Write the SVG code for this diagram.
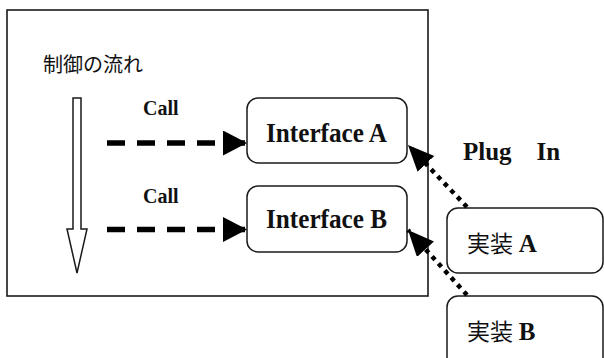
<svg xmlns="http://www.w3.org/2000/svg" width="604" height="358" viewBox="0 0 604 358">
<defs>
<style>
.frame{fill:#fff;stroke:#1a1a1a;stroke-width:1.6}
.box{fill:#fff;stroke:#1a1a1a;stroke-width:1.5}
.lbl{font-family:"Liberation Serif","Noto Sans CJK JP",serif;font-weight:bold;fill:#111}
.jp{font-family:"Noto Sans CJK JP",sans-serif;fill:#111}
.impl{font-family:"Liberation Serif","Noto Sans CJK JP",serif;fill:#111;font-size:23px}
.lat{font-weight:bold;font-size:25px}
.dash{stroke:#000;stroke-width:5.5;stroke-dasharray:18 12;fill:none}
.dot{stroke:#000;stroke-width:4.5;stroke-dasharray:4.5 5;fill:none}
</style>
<marker id="tri" markerUnits="userSpaceOnUse" markerWidth="26" markerHeight="26" refX="24" refY="12.5" orient="auto" viewBox="0 0 26 26">
<path d="M0,0 L24,12.5 L0,25 Z" fill="#000"/>
</marker>
<marker id="tri2" markerUnits="userSpaceOnUse" markerWidth="28" markerHeight="24" refX="26" refY="11.5" orient="auto" viewBox="0 0 28 24">
<path d="M0,0 L26,11.5 L0,23 Z" fill="#000"/>
</marker>
</defs>
<rect x="0" y="0" width="604" height="358" fill="#fff"/>
<rect class="frame" x="7" y="10" width="421" height="286"/>
<g id="flow">
<polygon points="73,98 81,98 81,229 87,229 77,273 67,229 73,229" fill="#fff" stroke="#1a1a1a" stroke-width="1.5"/>
<text class="jp" x="43" y="72" font-size="20">制御の流れ</text>
</g>
<g id="ifaceA">
<rect class="box" x="247" y="98" width="160" height="65" rx="11"/>
<text class="lbl" x="266" y="142" font-size="27" textLength="121" lengthAdjust="spacingAndGlyphs">Interface A</text>
</g>
<g id="ifaceB">
<rect class="box" x="247" y="186" width="160" height="66" rx="11"/>
<text class="lbl" x="266" y="228" font-size="27" textLength="121" lengthAdjust="spacingAndGlyphs">Interface B</text>
</g>
<g id="implA">
<rect class="box" x="447" y="208" width="156" height="65" rx="11"/>
<text class="impl" x="467" y="252">実装 <tspan class="lat">A</tspan></text>
</g>
<g id="implB">
<rect class="box" x="447" y="296" width="156" height="80" rx="11"/>
<text class="impl" x="467" y="340">実装 <tspan class="lat">B</tspan></text>
</g>
<g id="connectors">
<line class="dash" x1="107" y1="143" x2="247" y2="143" marker-end="url(#tri)"/>
<line class="dash" x1="107" y1="229.5" x2="247" y2="229.5" marker-end="url(#tri)"/>
<line class="dot" x1="467" y1="207" x2="408" y2="145" marker-end="url(#tri2)"/>
<line class="dot" x1="467" y1="295" x2="408" y2="230" marker-end="url(#tri2)"/>
<text class="lbl" x="143" y="115" font-size="20">Call</text>
<text class="lbl" x="143" y="203" font-size="20">Call</text>
<text class="lbl" x="463" y="160" font-size="25">Plug　In</text>
</g>
</svg>
